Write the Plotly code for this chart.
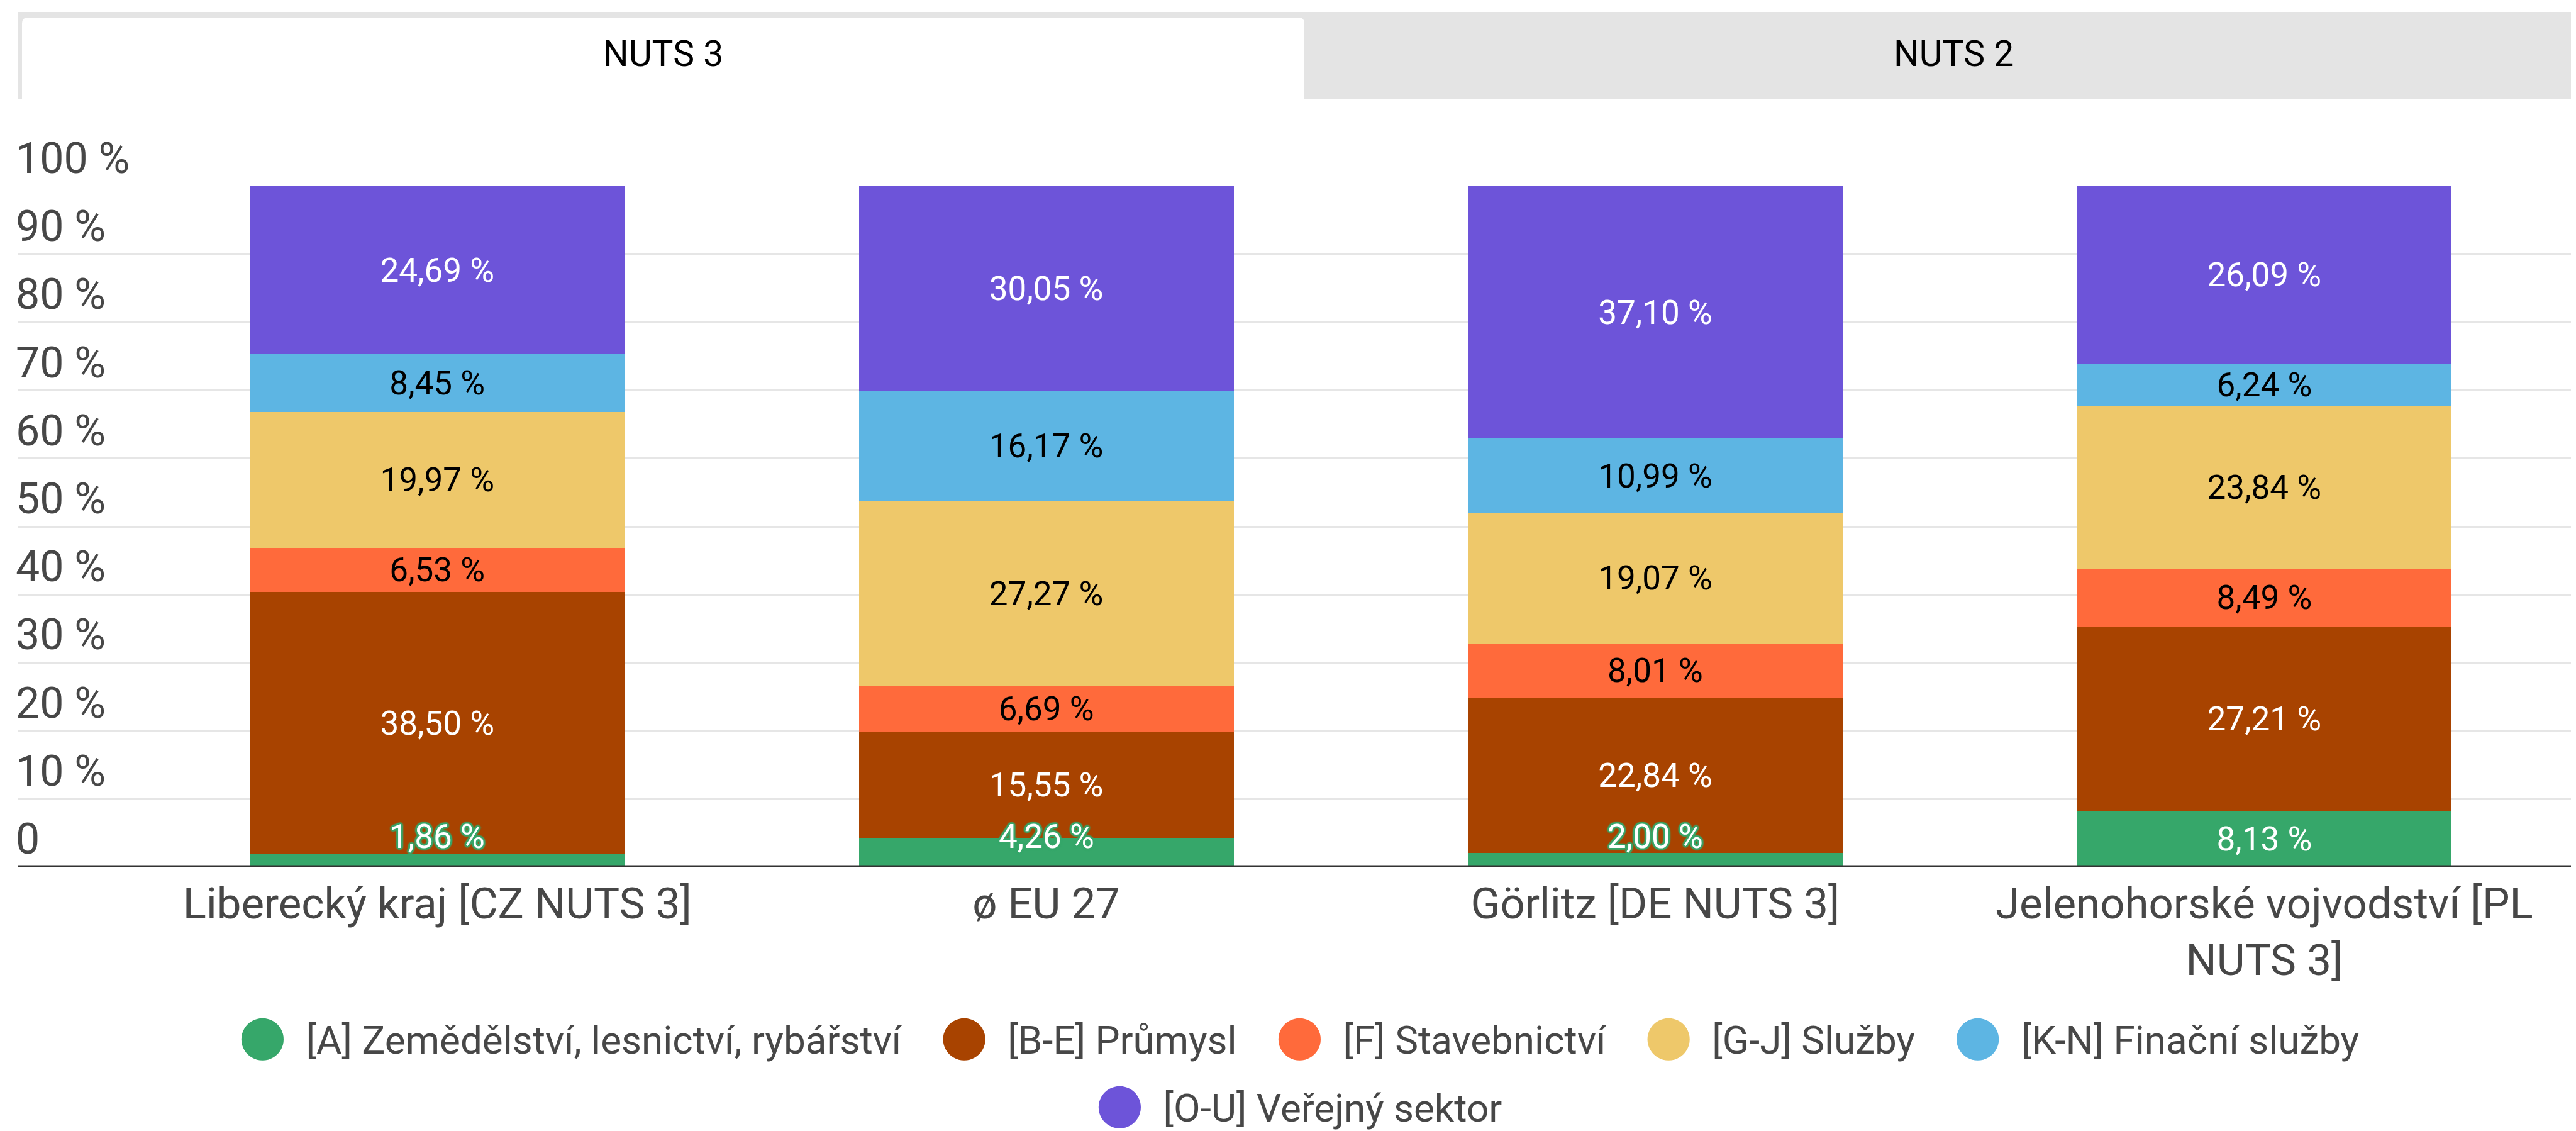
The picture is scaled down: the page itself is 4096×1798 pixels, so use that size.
import plotly.graph_objects as go

# ---------------- data ----------------
categories = ["Liberecký kraj [CZ NUTS 3]", "ø EU 27", "Görlitz [DE NUTS 3]",
              "Jelenohorské vojvodství [PL NUTS 3]"]
tick_labels = ["Liberecký kraj [CZ NUTS 3]", "ø EU 27", "Görlitz [DE NUTS 3]",
               "Jelenohorské vojvodství [PL<br>NUTS 3]"]

series_names = ["[A] Zemědělství, lesnictví, rybářství", "[B-E] Průmysl",
                "[F] Stavebnictví", "[G-J] Služby", "[K-N] Finační služby",
                "[O-U] Veřejný sektor"]
values_A = [1.86, 4.26, 2.00, 8.13]
values_BE = [38.50, 15.55, 22.84, 27.21]
values_F = [6.53, 6.69, 8.01, 8.49]
values_GJ = [19.97, 27.27, 19.07, 23.84]
values_KN = [8.45, 16.17, 10.99, 6.24]
values_OU = [24.69, 30.05, 37.10, 26.09]
series_values = [values_A, values_BE, values_F, values_GJ, values_KN, values_OU]

y_ticks = [0, 10, 20, 30, 40, 50, 60, 70, 80, 90, 100]
y_tick_labels = ["0", "10 %", "20 %", "30 %", "40 %", "50 %", "60 %", "70 %",
                 "80 %", "90 %", "100 %"]

tabs = ["NUTS 3", "NUTS 2"]

# ---------------- style ----------------
colors = ["#36a76a", "#a84300", "#ff6a3b", "#eec86a", "#5db5e3", "#6d54d9"]
label_colors = ["#ffffff", "#ffffff", "#000000", "#000000", "#000000", "#ffffff"]
FONT = "Roboto"
W, H = 4096, 1798
L, R, T, B = 21, 4, 288, 428
PW, PH = W - L - R, H - T - B
SMALL_MIN = 5.0        # segments smaller than this get a floating label
SMALL_LABEL_Y = 4.45   # where floating labels sit (axis units)
GREEN = colors[0]


def xp(px):
    return (px - L) / PW


def yp(py):
    return (H - B - py) / PH


def fmt(v):
    return f"{v:.2f}".replace(".", ",") + " %"


fig = go.Figure()
for i, (name, vals) in enumerate(zip(series_names, series_values)):
    texts = [fmt(v) if (i != 0 or v >= SMALL_MIN) else "" for v in vals]
    fig.add_trace(go.Bar(
        x=categories, y=vals, name=name, text=texts,
        textposition="inside", insidetextanchor="middle", textangle=0,
        textfont=dict(family=FONT, size=53, color=label_colors[i]),
        marker=dict(color=colors[i], line=dict(width=0)),
        showlegend=False, hoverinfo="skip",
    ))

annotations = []
halo = ", ".join(f"{dx}px {dy}px 2px {GREEN}" for dx, dy in
                 [(3, 0), (-3, 0), (0, 3), (0, -3), (2, 2), (-2, -2), (2, -2), (-2, 2)])
# floating labels for tiny segments
for c, v in zip(categories, values_A):
    if v < SMALL_MIN:
        annotations.append(dict(
            x=c, y=SMALL_LABEL_Y, xref="x", yref="y", text=fmt(v), showarrow=False,
            font=dict(family=FONT, size=53, color="#ffffff", shadow=halo),
            xanchor="center", yanchor="middle"))

# y tick labels above gridlines
for v, t in zip(y_ticks, y_tick_labels):
    annotations.append(dict(
        x=0, y=v, xref="paper", yref="y", text=t, showarrow=False,
        xanchor="left", yanchor="bottom", xshift=-6, yshift=2,
        font=dict(family=FONT, size=68, color="#474747")))

# tab labels
annotations.append(dict(x=xp(1046), y=yp(78), xref="paper", yref="paper", text=tabs[0],
                        showarrow=False, xanchor="center", yanchor="middle",
                        font=dict(family=FONT, size=57, color="#000000")))
annotations.append(dict(x=xp(3098), y=yp(78), xref="paper", yref="paper", text=tabs[1],
                        showarrow=False, xanchor="center", yanchor="middle",
                        font=dict(family=FONT, size=57, color="#000000")))

# custom legend (two centred rows)
legend_rows = [[0, 1, 2, 3, 4], [5]]
legend_row_y = [1636, 1744]


def legend_item(i):
    dot = (f'<span style="font-family:\'DejaVu Sans\';font-size:88px;'
           f'color:{colors[i]}">●</span>')
    return dot + "&nbsp;&nbsp;" + series_names[i]


for row, ypix in zip(legend_rows, legend_row_y):
    txt = "&nbsp;&nbsp;&nbsp;&nbsp;".join(legend_item(i) for i in row)
    annotations.append(dict(x=0.5, y=yp(ypix), xref="paper", yref="paper", text=txt,
                            showarrow=False, xanchor="center", yanchor="middle",
                            font=dict(family=FONT, size=62, color="#474747")))

shapes = [
    # tab bar background
    dict(type="rect", xref="paper", yref="paper", x0=xp(20), x1=xp(W), y0=yp(150), y1=yp(11),
         fillcolor="#e4e4e4", line=dict(width=0), layer="below"),
    # active tab
    dict(type="path", xref="paper", yref="paper",
         path=(f"M {xp(27)},{yp(150)} L {xp(27)},{yp(29)} Q {xp(27)},{yp(20)} {xp(36)},{yp(20)} "
               f"L {xp(2057)},{yp(20)} Q {xp(2066)},{yp(20)} {xp(2066)},{yp(29)} "
               f"L {xp(2066)},{yp(150)} Z"),
         fillcolor="#ffffff", line=dict(width=0), layer="below"),
    # baseline
    dict(type="line", xref="paper", yref="y", x0=0, x1=1, y0=0, y1=0,
         line=dict(color="#333333", width=5), layer="above"),
]

fig.update_layout(
    width=W, height=H,
    margin=dict(l=L, r=R, t=T, b=B, pad=0),
    barmode="stack", bargap=0.3845,
    paper_bgcolor="#ffffff", plot_bgcolor="#ffffff",
    font=dict(family=FONT, color="#474747"),
    uniformtext=dict(minsize=53, mode="show"),
    showlegend=False,
    annotations=annotations, shapes=shapes,
    xaxis=dict(type="category", range=[-0.688, 3.516], tickvals=categories,
               ticktext=tick_labels, showgrid=False, zeroline=False, showline=False,
               ticks="", ticklabelstandoff=12,
               tickfont=dict(family=FONT, size=69, color="#474747"), fixedrange=True),
    yaxis=dict(range=[0, 100], tickvals=y_ticks, showticklabels=False, showgrid=True,
               gridcolor="#e6e6e6", gridwidth=2.5, zeroline=False, showline=False,
               ticks="", fixedrange=True),
)

fig.write_html("out.html")
